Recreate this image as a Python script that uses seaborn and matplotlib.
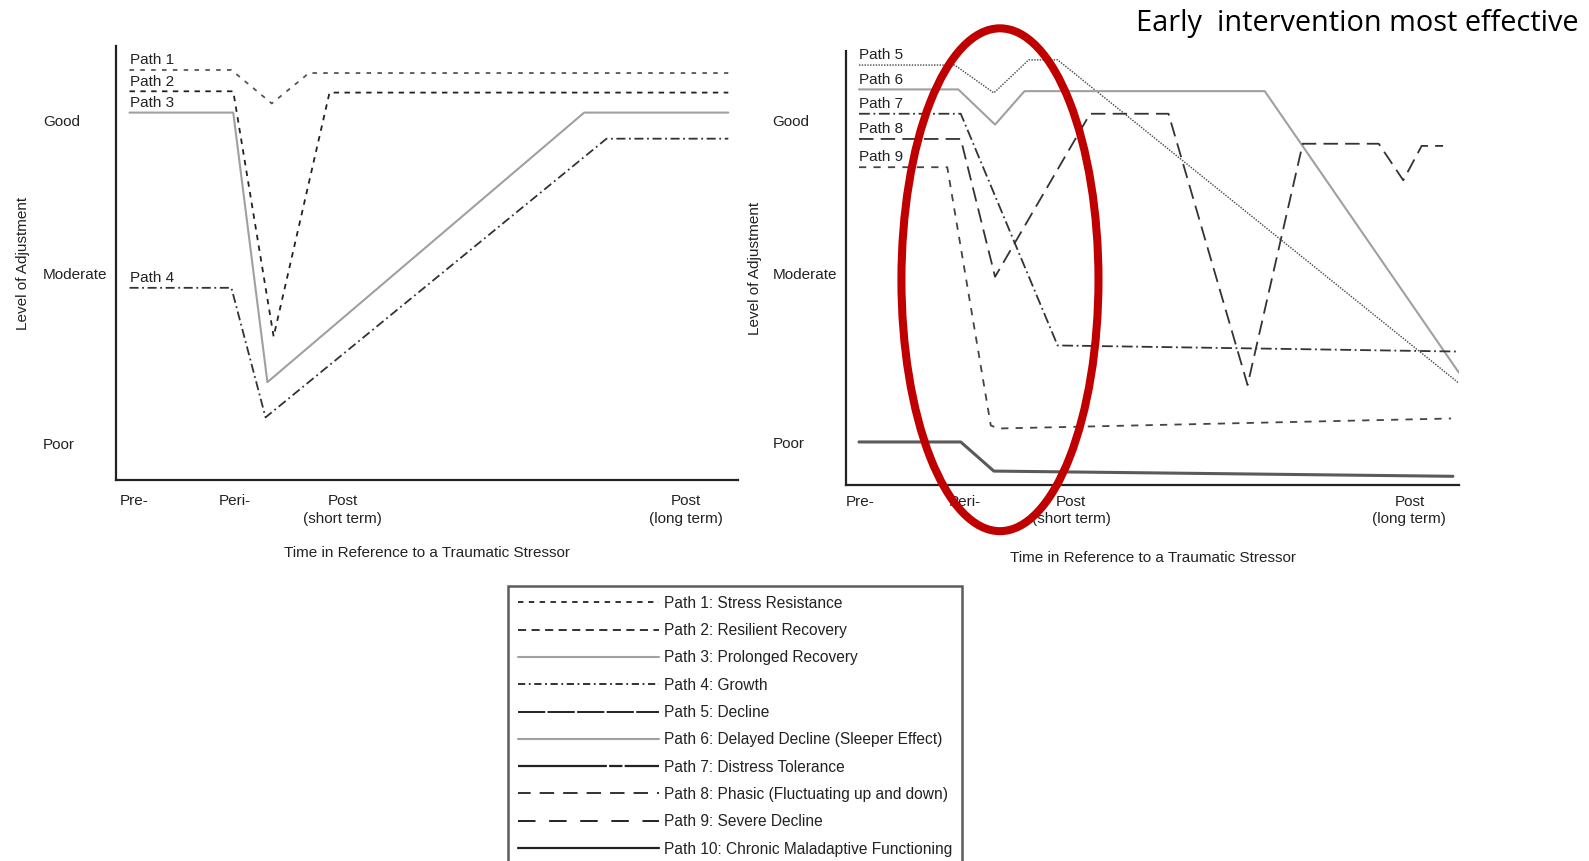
import matplotlib
matplotlib.use("Agg")
import matplotlib.pyplot as plt
import seaborn as sns
from matplotlib.lines import Line2D
from matplotlib.patches import Ellipse

# time runs 0..100 along each panel, level of adjustment 0..100 up the panel
TIME_LABELS = ["Pre-", "Peri-", "Post\n(short term)", "Post\n(long term)"]
TIME_TICKS_LEFT = [2.8, 19.1, 36.4, 91.7]
TIME_TICKS_RIGHT = [2.3, 19.3, 36.7, 91.9]
LEVEL_LABELS = ["Poor", "Moderate", "Good"]
LEVEL_TICKS_LEFT = [8.6, 47.6, 82.8]
LEVEL_TICKS_RIGHT = [9.8, 48.7, 83.9]

path1_t = [2.1, 18.5, 25.0, 31.0, 98.5]
path1_lvl = [94.4, 94.4, 86.7, 93.7, 93.7]
path2_t = [2.1, 18.8, 25.3, 34.3, 98.5]
path2_lvl = [89.5, 89.5, 33.1, 89.2, 89.2]
path3_t = [2.1, 18.8, 24.3, 75.3, 98.5]
path3_lvl = [84.6, 84.6, 22.6, 84.6, 84.6]
path4_t = [2.1, 18.5, 24.0, 78.9, 98.5]
path4_lvl = [44.3, 44.3, 14.5, 78.6, 78.6]

path5_t = [2.1, 17.7, 24.1, 29.8, 34.5, 100.0]
path5_lvl = [96.7, 96.7, 90.3, 97.9, 97.9, 23.5]
path6_t = [2.1, 18.3, 24.3, 29.1, 68.3, 100.0]
path6_lvl = [91.1, 91.1, 83.0, 90.7, 90.7, 25.9]
path7_t = [2.1, 18.7, 34.5, 99.7]
path7_lvl = [85.5, 85.5, 32.2, 30.8]
path8_t = [2.1, 18.7, 24.3, 39.8, 52.6, 65.5, 74.5, 86.9, 90.9, 93.9, 97.4]
path8_lvl = [79.7, 79.7, 48.0, 85.5, 85.5, 23.1, 78.6, 78.6, 70.2, 78.1, 78.1]
path9_t = [2.1, 16.5, 23.6, 24.8, 98.7]
path9_lvl = [73.2, 73.2, 13.8, 13.1, 15.4]
path10_t = [2.1, 18.7, 24.1, 99.0]
path10_lvl = [10.0, 10.0, 3.3, 2.1]

LEFT_PATHS = ["Path 1", "Path 2", "Path 3", "Path 4"]
RIGHT_PATHS = ["Path 5", "Path 6", "Path 7", "Path 8", "Path 9", "Path 10"]
PATH_NAMES = [
    "Stress Resistance",
    "Resilient Recovery",
    "Prolonged Recovery",
    "Growth",
    "Decline",
    "Delayed Decline (Sleeper Effect)",
    "Distress Tolerance",
    "Phasic (Fluctuating up and down)",
    "Severe Decline",
    "Chronic Maladaptive Functioning",
]

paths = {
    "Path 1": (path1_t, path1_lvl),
    "Path 2": (path2_t, path2_lvl),
    "Path 3": (path3_t, path3_lvl),
    "Path 4": (path4_t, path4_lvl),
    "Path 5": (path5_t, path5_lvl),
    "Path 6": (path6_t, path6_lvl),
    "Path 7": (path7_t, path7_lvl),
    "Path 8": (path8_t, path8_lvl),
    "Path 9": (path9_t, path9_lvl),
    "Path 10": (path10_t, path10_lvl),
}

# (color, linewidth, linestyle) for the plotted curves
line_styles = {
    "Path 1": ("#555555", 1.3, (0, (2.5, 3.5))),
    "Path 2": ("#222222", 1.3, (0, (3, 3))),
    "Path 3": ("#a0a0a0", 1.5, "-"),
    "Path 4": ("#333333", 1.3, (0, (5, 2, 1, 2))),
    "Path 5": ("#444444", 1.0, (0, (1, 1))),
    "Path 6": ("#a0a0a0", 1.5, "-"),
    "Path 7": ("#333333", 1.3, (0, (6, 2, 1, 2))),
    "Path 8": ("#333333", 1.3, (0, (8, 4))),
    "Path 9": ("#444444", 1.3, (0, (4, 4))),
    "Path 10": ("#5a5a5a", 2.2, "-"),
}

# legend samples are drawn a bit differently from the curves
legend_styles = [
    ("#222222", 1.3, (0, (3, 3))),
    ("#222222", 1.3, (0, (4.5, 3))),
    ("#a0a0a0", 1.5, "-"),
    ("#222222", 1.3, (0, (4, 2, 1, 2))),
    ("#222222", 1.4, (0, (14, 1.2))),
    ("#a0a0a0", 1.5, "-"),
    ("#222222", 1.6, (0, (40, 1, 6, 1))),
    ("#222222", 1.3, (0, (7, 5, 1, 0))),
    ("#222222", 1.4, (0, (9, 7))),
    ("#222222", 1.6, "-"),
]

sns.set_style("white")
plt.rcParams["font.family"] = ["Liberation Sans", "DejaVu Sans"]
TEXT = "#222222"

fig = plt.figure(figsize=(15.89, 8.61), dpi=100)
ax_left = fig.add_axes([0.0733, 0.4420, 0.3909, 0.5050])
ax_right = fig.add_axes([0.5325, 0.4362, 0.3857, 0.5049])


def draw_panel(ax, names, time_ticks, level_ticks, xpad, ylabel_x):
    for name in names:
        t, lvl = paths[name]
        color, lw, ls = line_styles[name]
        sns.lineplot(x=t, y=lvl, sort=False, estimator=None, color=color,
                     linewidth=lw, linestyle=ls, ax=ax)
        if name != "Path 10":
            ax.annotate(name, xy=(t[0], lvl[0]), xytext=(0, 7), textcoords="offset points",
                        ha="left", va="center", fontsize=11, color=TEXT)
    ax.set_xlim(0, 100)
    ax.set_ylim(0, 100)
    ax.set_xticks(time_ticks, TIME_LABELS)
    ax.set_yticks(level_ticks, LEVEL_LABELS)
    for lbl in ax.get_yticklabels():
        lbl.set_ha("left")
    for lbl in ax.get_xticklabels():
        lbl.set_linespacing(1.3)
    ax.tick_params(axis="y", length=0, pad=53, labelsize=11, labelcolor=TEXT)
    ax.tick_params(axis="x", length=0, pad=xpad, labelsize=11, labelcolor=TEXT)
    ax.set_ylabel("Level of Adjustment", fontsize=11, color=TEXT)
    ax.yaxis.set_label_coords(ylabel_x, 0.5)
    ax.set_xlabel("Time in Reference to a Traumatic Stressor", fontsize=11, color=TEXT)
    ax.xaxis.set_label_coords(0.5, -0.15)
    sns.despine(ax=ax)
    for side in ["left", "bottom"]:
        ax.spines[side].set_color("#222222")
        ax.spines[side].set_linewidth(1.6)


draw_panel(ax_left, LEFT_PATHS, TIME_TICKS_LEFT, LEVEL_TICKS_LEFT, 10, -0.140)
draw_panel(ax_right, RIGHT_PATHS, TIME_TICKS_RIGHT, LEVEL_TICKS_RIGHT, 7, -0.138)

handles = [Line2D([], [], color=c, linewidth=lw, linestyle=ls) for c, lw, ls in legend_styles]
labels = [f"Path {i + 1}: {name}" for i, name in enumerate(PATH_NAMES)]
leg = fig.legend(handles, labels, loc="upper left", bbox_to_anchor=(0.3197, 0.3198),
                 borderaxespad=0, frameon=True, fancybox=False, fontsize=11.2,
                 handlelength=9.05, handletextpad=0.3, labelspacing=0.79,
                 borderpad=0.66)
leg.get_frame().set_edgecolor("#333333")
leg.get_frame().set_linewidth(1.8)
for txt in leg.get_texts():
    txt.set_color(TEXT)

fig.add_artist(Ellipse((0.6293, 0.6751), 0.124, 0.584, transform=fig.transFigure,
                       fill=False, edgecolor="#c00000", linewidth=5.8))

fig.text(0.9937, 0.973, "Early  intervention most effective", ha="right", va="center",
         fontsize=20.8, family="Open Sans", color="black")

fig.savefig("out.png", dpi=100)
